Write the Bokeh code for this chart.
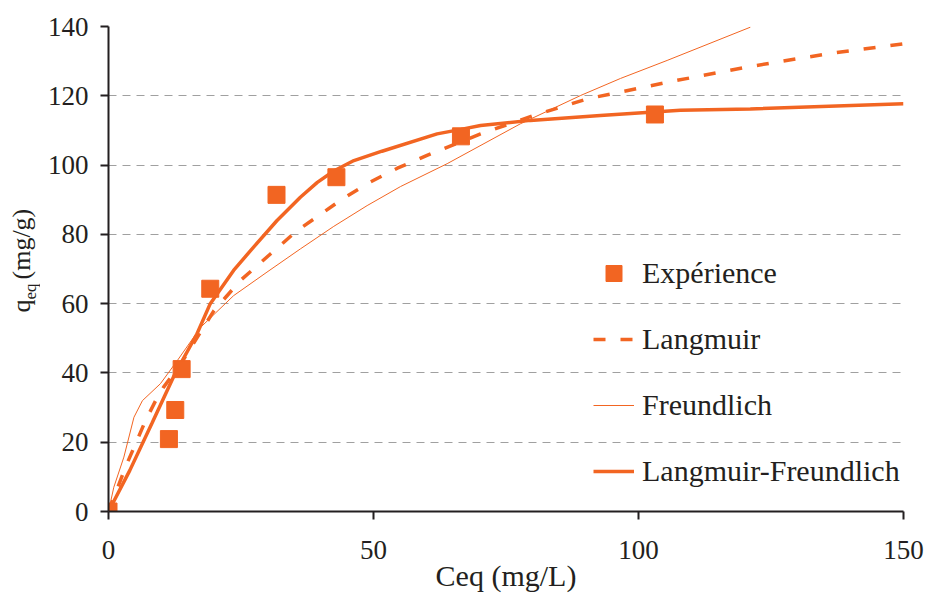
from math import pi
from bokeh.plotting import figure
from bokeh.layouts import row
from bokeh.models import Range1d, FixedTicker, Legend, LegendItem, Label
from bokeh.embed import file_html
from bokeh.resources import INLINE

# Experimental data
exp_c = [0, 11.4, 12.6, 13.8, 19.2, 31.7, 43.0, 66.5, 103.1]
exp_q = [0, 20.9, 29.3, 41.1, 64.3, 91.4, 96.5, 108.3, 114.6]

# Langmuir model (dashed)
lang_c = [0, 3.2, 5.1, 7.0, 8.9, 10.4, 13.8, 19.9, 24.9, 30.6, 35.6, 40.6, 44.4,
          49.4, 54.5, 60.1, 70.2, 80.2, 90.3, 100.4, 105.4, 120.5, 135.6, 150]
lang_q = [0, 12.8, 19.5, 26.3, 32.0, 35.9, 43.0, 58.0, 66.7, 74.4, 81.1, 86.4, 90.5,
          95.1, 99.1, 102.8, 109.0, 114.3, 119.1, 122.3, 123.9, 128.3, 132.1, 135.0]

# Freundlich model (thin)
freu_c = [0, 1.0, 2.9, 4.8, 6.4, 9.8, 13.0, 17.4, 23.6, 29.9, 36.2, 42.5, 48.8,
          55.1, 63.9, 77.7, 89.1, 96.6, 105.4, 121.1]
freu_q = [0, 7.0, 15.7, 27.2, 32.0, 36.9, 43.6, 53.2, 62.3, 69.1, 75.8, 82.3, 88.3,
          93.8, 100.4, 111.9, 120.1, 125.0, 130.2, 139.8]

# Langmuir-Freundlich model (thick)
lf_c = [0, 4.0, 8.2, 12.3, 16.7, 19.2, 23.6, 26.8, 31.8, 36.2, 39.4, 42.5, 46.3,
        51.6, 62.0, 66.5, 70.2, 79.6, 92.8, 107.9, 121.1, 150]
lf_q = [0, 11.8, 25.5, 39.0, 51.3, 60.0, 69.6, 75.3, 84.0, 90.7, 95.0, 98.3, 101.3,
        104.0, 109.0, 110.3, 111.4, 112.9, 114.3, 115.8, 116.2, 117.7]

x_ticks = [0, 50, 100, 150]
y_ticks = [0, 20, 40, 60, 80, 100, 120, 140]

x_title = "Ceq (mg/L)"
y_title_main = "q"
y_title_sub = "eq"
y_title_unit = "(mg/g)"

ORANGE = "#F26522"
TEXT = "#231F20"
FONT = "Liberation Serif"

YLAB_W = 40
TOTAL_W = 926
TOTAL_H = 599
TOP_B = 26
BOTTOM_B = TOTAL_H - 511

# ---- main chart ----
p = figure(width=TOTAL_W - YLAB_W, height=TOTAL_H, output_backend="svg",
           toolbar_location=None,
           x_range=Range1d(0, 150), y_range=Range1d(0, 140),
           min_border_left=68, min_border_right=23, min_border_top=TOP_B,
           min_border_bottom=BOTTOM_B)
p.outline_line_color = None
p.background_fill_color = "white"
p.border_fill_color = "white"

p.xgrid.visible = False
p.ygrid.grid_line_color = "#a0a0a0"
p.ygrid.grid_line_dash = "8 6"
p.ygrid.grid_line_width = 1

for ax in (p.xaxis[0], p.yaxis[0]):
    ax.axis_line_color = TEXT
    ax.axis_line_width = 2
    ax.major_tick_line_color = TEXT
    ax.major_tick_line_width = 2
    ax.major_tick_in = 0
    ax.major_tick_out = 8
    ax.minor_tick_line_color = None
    ax.minor_tick_out = 0
    ax.major_label_text_font = FONT
    ax.major_label_text_font_size = "27px"
    ax.major_label_text_color = TEXT

p.xaxis.ticker = FixedTicker(ticks=x_ticks)
p.yaxis.ticker = FixedTicker(ticks=y_ticks)
p.xaxis.major_label_standoff = 21
p.yaxis.major_label_standoff = 12

p.xaxis.axis_label = x_title
p.xaxis.axis_label_text_font = FONT
p.xaxis.axis_label_text_font_size = "30px"
p.xaxis.axis_label_text_font_style = "normal"
p.xaxis.axis_label_text_color = TEXT
p.xaxis.axis_label_standoff = -3

r_lang = p.line(lang_c, lang_q, line_color=ORANGE, line_width=3.5, line_dash="12 15")
r_freu = p.line(freu_c, freu_q, line_color=ORANGE, line_width=1)
r_lf = p.line(lf_c, lf_q, line_color=ORANGE, line_width=3.5)
r_exp = p.scatter(exp_c, exp_q, marker="square", size=17, fill_color=ORANGE,
                  line_color=ORANGE)

legend = Legend(items=[
    LegendItem(label="Expérience", renderers=[r_exp]),
    LegendItem(label="Langmuir", renderers=[r_lang]),
    LegendItem(label="Freundlich", renderers=[r_freu]),
    LegendItem(label="Langmuir-Freundlich", renderers=[r_lf]),
], location=(485, 20))
legend.padding = 0
legend.margin = 0
legend.border_line_color = None
legend.background_fill_alpha = 0
legend.glyph_width = 41
legend.glyph_height = 40
legend.label_height = 40
legend.spacing = 26
legend.label_standoff = 8
legend.label_text_font = FONT
legend.label_text_font_size = "30px"
legend.label_text_color = TEXT
p.add_layout(legend)

# ---- y-axis title panel: frame aligned with the main frame; y = 599 - page y ----
ylab = figure(width=YLAB_W, height=TOTAL_H, output_backend="svg", title=None,
              toolbar_location=None, x_range=Range1d(0, YLAB_W),
              y_range=Range1d(BOTTOM_B, TOTAL_H - TOP_B), x_axis_location=None,
              y_axis_location=None, min_border_left=0, min_border_right=0,
              min_border_top=TOP_B, min_border_bottom=BOTTOM_B)
ylab.outline_line_color = None
ylab.xgrid.visible = False
ylab.ygrid.visible = False
ylab.background_fill_color = "white"
ylab.border_fill_color = "white"
ylab.add_layout(Label(x=21, y=TOTAL_H - 312, text=y_title_main, angle=pi / 2,
                      text_align="left", text_baseline="alphabetic",
                      text_font=FONT, text_font_size="26px", text_color=TEXT))
ylab.add_layout(Label(x=30, y=TOTAL_H - 299, text=y_title_sub, angle=pi / 2,
                      text_align="left", text_baseline="alphabetic",
                      text_font=FONT, text_font_size="17px", text_color=TEXT))
ylab.add_layout(Label(x=21, y=TOTAL_H - 279, text=y_title_unit, angle=pi / 2,
                      text_align="left", text_baseline="alphabetic",
                      text_font=FONT, text_font_size="26px", text_color=TEXT))

layout = row(ylab, p, spacing=0)

open("out.html", "w").write(file_html(layout, INLINE))
